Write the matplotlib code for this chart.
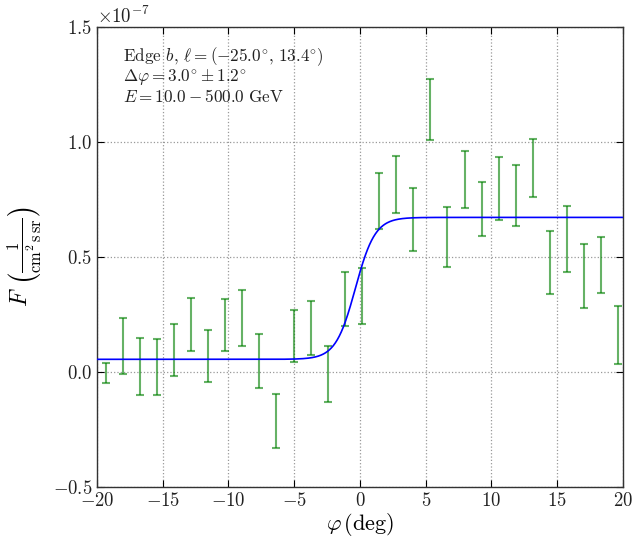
import numpy as np
import matplotlib
matplotlib.use("Agg")
import matplotlib.pyplot as plt

# binned flux profile across the edge (units of 1e-7 / cm^2 s sr)
phi = [-19.35, -18.05, -16.75, -15.45, -14.15, -12.85, -11.55, -10.25, -8.95, -7.65,
       -6.35, -5.05, -3.75, -2.45, -1.15, 0.15, 1.45, 2.75, 4.05, 5.35,
       6.65, 7.95, 9.25, 10.55, 11.85, 13.15, 14.45, 15.75, 17.05, 18.35, 19.65]
flux = [-0.005, 0.113, 0.024, 0.020, 0.095, 0.206, 0.070, 0.205, 0.236, 0.047,
        -0.213, 0.156, 0.190, -0.010, 0.318, 0.330, 0.744, 0.817, 0.661, 1.140,
        0.588, 0.836, 0.707, 0.797, 0.767, 0.886, 0.475, 0.578, 0.417, 0.466, 0.160]
flux_err = [0.043, 0.123, 0.124, 0.122, 0.112, 0.115, 0.113, 0.114, 0.122, 0.118,
            0.116, 0.112, 0.118, 0.121, 0.117, 0.120, 0.121, 0.124, 0.137, 0.133,
            0.131, 0.125, 0.117, 0.138, 0.133, 0.125, 0.136, 0.143, 0.139, 0.122, 0.126]

# step fit: low level, high level, centre and width (deg)
fit_low, fit_high = 0.055, 0.672
fit_x0, fit_w = -0.35, 0.75
scale = 1e-7

plt.rcParams['font.family'] = 'serif'
plt.rcParams['font.serif'] = ['cmr10']
plt.rcParams['mathtext.fontset'] = 'cm'
plt.rcParams['axes.formatter.use_mathtext'] = True
plt.rcParams['axes.unicode_minus'] = True

fig = plt.figure(figsize=(6.36, 5.39), dpi=100)
ax = fig.add_axes([0.1525, 0.0965, 0.827, 0.8535])

x = np.array(phi)
y = np.array(flux) * scale
yerr = np.array(flux_err) * scale
ax.errorbar(x, y, yerr=yerr, fmt='none', ecolor='g', alpha=0.6,
            elinewidth=1.5, capsize=3, capthick=1.5, zorder=2)

xx = np.linspace(-20, 20, 800)
model = fit_low + (fit_high - fit_low) / (1 + np.exp(-(xx - fit_x0) / fit_w))
ax.plot(xx, model * scale, color='b', lw=1.2, zorder=3)

ax.set_xlim(-20, 20)
ax.set_ylim(-0.5e-7, 1.5e-7)
ax.set_xticks(np.arange(-20, 21, 5))
ax.set_yticks(np.arange(-0.5e-7, 1.51e-7, 0.5e-7))
ax.grid(True, color='#999999', linestyle=':', linewidth=0.9)
ax.tick_params(direction='in', top=True, right=True, labelsize=13.5, length=5,
               labelcolor='#222222')
ax.yaxis.get_offset_text().set_fontsize(13.5)
for s in ax.spines.values():
    s.set_linewidth(1.0)
    s.set_color('#333333')

ax.set_xlabel(r'$\varphi\,(\mathrm{deg})$', fontsize=16, labelpad=1)
ax.set_ylabel(r'$F\ \left(\frac{1}{\mathrm{cm}^2\,\mathrm{s}\,\mathrm{sr}}\right)$',
              fontsize=17, labelpad=6)

txt = ('Edge $b$, $\\ell = (-25.0^{\\circ},\\, 13.4^{\\circ})$\n'
       '$\\Delta\\varphi = 3.0^{\\circ} \\pm 1.2^{\\circ}$\n'
       '$E = 10.0 - 500.0\\ \\mathrm{GeV}$')
ax.text(0.049, 0.96, txt, transform=ax.transAxes, fontsize=12.3,
        va='top', ha='left', linespacing=1.0, color='#222222')

fig.savefig('out.png', dpi=100)
